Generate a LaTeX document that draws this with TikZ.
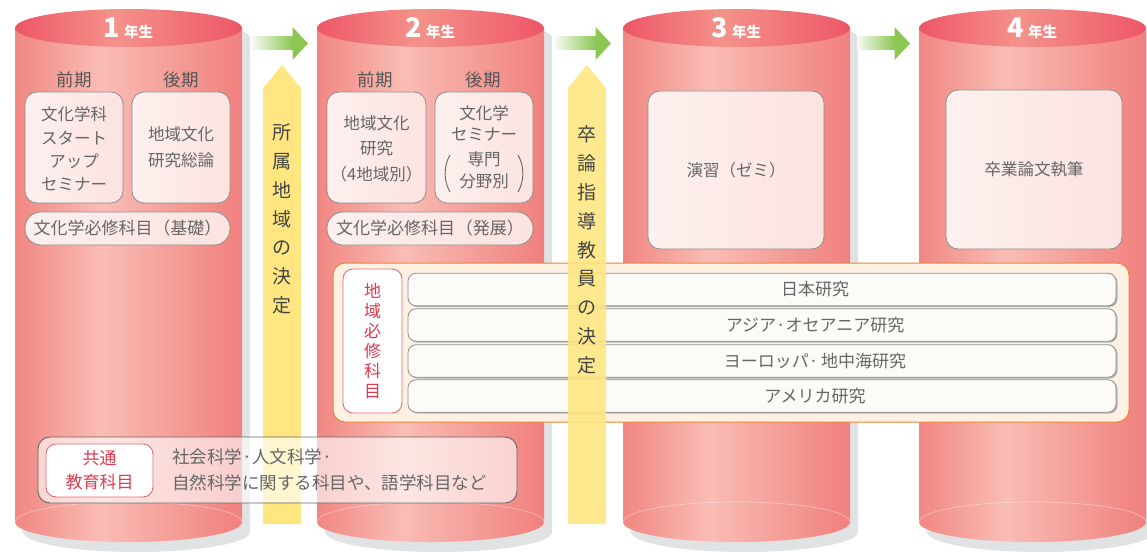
\documentclass[tikz,border=0pt]{standalone}
\usepackage{fontspec}
\setmainfont{Noto Sans CJK JP}
\definecolor{cylE}{HTML}{F18682}
\definecolor{cylER}{HTML}{F0807D}
\definecolor{cylM}{HTML}{F9BDB5}
\definecolor{topE}{HTML}{EE5668}
\definecolor{topM}{HTML}{F4928A}
\definecolor{shadowc}{HTML}{E1E2E4}
\definecolor{boxL}{HTML}{FDF0EE}
\definecolor{boxR}{HTML}{FBE3E0}
\definecolor{boxdraw}{HTML}{8E8E8E}
\definecolor{regfill}{HTML}{FEF1E3}
\definecolor{regdraw}{HTML}{EC8436}
\definecolor{redc}{HTML}{E03A4C}
\definecolor{reddraw}{HTML}{E36A78}
\definecolor{rowfill}{HTML}{FDFBF7}
\definecolor{rowdraw}{HTML}{8F8F8F}
\definecolor{yellowc}{HTML}{FFE680}
\definecolor{greenc}{HTML}{8CC653}
\definecolor{txtc}{HTML}{666666}
\definecolor{semc}{HTML}{555555}
\definecolor{ytxt}{HTML}{444444}
\pgfdeclarehorizontalshading{cylbody}{100bp}{color(0bp)=(cylE); color(25bp)=(cylE); color(44bp)=(cylM); color(75bp)=(cylER); color(100bp)=(cylER)}
\pgfdeclarehorizontalshading{cyltop}{100bp}{color(0bp)=(topE); color(25bp)=(topE); color(47bp)=(topM); color(75bp)=(topE); color(100bp)=(topE)}
\tikzset{
  hdr/.style={text=white, font=\bfseries, inner sep=0pt},
  sem/.style={font=\fontsize{17.5}{17.5}\selectfont, text=semc, inner sep=0pt},
  boxtxt/.style={font=\fontsize{16.5}{24}\selectfont, text=txtc, align=center, inner sep=0pt},
  pinkbox/.style={rounded corners=12pt, draw=boxdraw, line width=0.8pt, left color=boxL, right color=boxR, inner sep=0pt},
  pill/.style={rounded corners=16pt, draw=boxdraw, line width=0.8pt, left color=boxL, right color=boxR, inner sep=0pt, font=\fontsize{17}{17}\selectfont, text=txtc, minimum height=33pt},
  rowbox/.style={rounded corners=8pt, draw=rowdraw, line width=0.8pt, fill=rowfill, minimum width=708pt, minimum height=32.5pt, inner sep=0pt},
  rowtxt/.style={font=\fontsize{17}{17}\selectfont, text=txtc, inner sep=0pt},
  redbox/.style={rounded corners=10pt, draw=reddraw, line width=0.9pt, fill=white, inner sep=0pt, text=redc, align=center},
  vtxt/.style={font=\fontsize{19}{28.8}\selectfont, text=ytxt, align=center, inner sep=0pt},
  paren/.style={draw=txtc, line width=0.9pt}
}
\begin{document}
\begin{tikzpicture}[x=1pt,y=-1pt]
\useasboundingbox (0,0) rectangle (1147,553);
% cylinders
\foreach \lx/\lab in {15/1,317/2,623/3,919/4}{
  \fill[shadowc] (\lx+8,38) rectangle (\lx+235,532);
  \fill[shadowc] (\lx+121.5,532) ellipse[x radius=113.5, y radius=20];
  \fill[shadowc] (\lx+121.5,38) ellipse[x radius=113.5, y radius=19];
  \shade[shading=cylbody] (\lx,28) rectangle (\lx+227,522);
  \shade[shading=cylbody] (\lx+113.5,522) ellipse[x radius=113.5, y radius=20];
  \draw[white, opacity=0.35, line width=0.8pt] (\lx,522) arc[start angle=180, end angle=360, x radius=113.5, y radius=20];
  \shade[shading=cyltop] (\lx+113.5,28) ellipse[x radius=113.5, y radius=19];
  \node[hdr] (h\lab) at (\lx+113.5,28) {{\fontsize{27}{27}\selectfont \lab}\hspace{4pt}{\fontsize{14.5}{14.5}\selectfont 年生}};
}
% green arrows
\foreach \ax/\tip in {252/56,555/56,857/53}{
  \shade[left color=greenc!8, right color=greenc] (\ax,37) rectangle (\ax+\tip-15,49.5);
  \fill[greenc] (\ax+\tip-15.5,27) -- (\ax+\tip,43.5) -- (\ax+\tip-15.5,60) -- cycle;
}
% yellow arrow 1
\fill[yellowc] (263,524) -- (263,88) -- (282,65) -- (301,88) -- (301,524) -- cycle;
\node[vtxt] (y1) at (282,219) {所\\属\\地\\域\\の\\決\\定};
% year 1
\node[sem] (s11) at (74,80) {前期};
\node[sem] (s12) at (181,80) {後期};
\node[pinkbox, minimum width=98pt, minimum height=111pt] (b11) at (74,147.5) {};
\node[boxtxt, font=\fontsize{16.5}{23.3}\selectfont] (t11) at (74,149) {文化学科\\スタート\\アップ\\セミナー};
\node[pinkbox, minimum width=98pt, minimum height=111pt] (b12) at (181,147.5) {};
\node[boxtxt, font=\fontsize{16.5}{26}\selectfont] (t12) at (181,147) {地域文化\\研究総論};
\node[pill, minimum width=205pt] (p1) at (127.5,228.5) {文化学必修科目\hspace{1pt}（基礎）};
% year 2
\node[sem] (s21) at (375,80) {前期};
\node[sem] (s22) at (483,80) {後期};
\node[pinkbox, minimum width=99pt, minimum height=111pt] (b21) at (376.5,147.5) {};
\node[boxtxt, font=\fontsize{16.5}{25.5}\selectfont] (t21) at (376.5,148.5) {地域文化\\研究\\（4地域別）};
\node[pinkbox, minimum width=98pt, minimum height=111pt] (b22) at (484,147.5) {};
\node[boxtxt, font=\fontsize{16.5}{21}\selectfont] (t22a) at (484,123.5) {文化学\\セミナー};
\node[boxtxt, font=\fontsize{16.5}{22}\selectfont] (t22b) at (484,170) {専門\\分野別};
\draw[paren] (450,155) .. controls (443.5,166) and (443.5,181) .. (450,192);
\draw[paren] (518,155) .. controls (524.5,166) and (524.5,181) .. (518,192);
\node[pill, minimum width=206pt] (p2) at (430,228.5) {文化学必修科目\hspace{1pt}（発展）};
% year 3, 4
\node[pinkbox, minimum width=176pt, minimum height=158pt, font=\fontsize{16.5}{16.5}\selectfont, text=txtc] (b3) at (736,170) {演習（ゼミ）};
\node[pinkbox, minimum width=176pt, minimum height=159pt, font=\fontsize{16.5}{16.5}\selectfont, text=txtc] (b4) at (1034,169.5) {卒業論文執筆};
% region box
\node[rounded corners=12pt, draw=regdraw, line width=1pt, fill=regfill, minimum width=796pt, minimum height=159pt, inner sep=0pt] (reg) at (731,342.5) {};
\node[redbox, minimum width=59pt, minimum height=144pt, font=\fontsize{17}{20}\selectfont] (rr) at (372.5,341) {地\\域\\必\\修\\科\\目};
\foreach \ry/\nm/\txt in {289.5/r1/日本研究, 325/r2/アジア·オセアニア研究, 361/r3/ヨーロッパ·\,地中海研究, 396/r4/アメリカ研究}{
  \fill[rowdraw!70, rounded corners=8pt] (409.5,\ry-15) rectangle (1117.5,\ry+17.5);
  \node[rowbox] (\nm) at (762,\ry) {};
  \node[rowtxt] (\nm t) at (815,\ry) {\txt};
}
% yellow arrow 2
\fill[yellowc, opacity=0.88] (568,524) -- (568,88) -- (587,65) -- (606,88) -- (606,524) -- cycle;
\node[vtxt] (y2) at (587,250) {卒\\論\\指\\導\\教\\員\\の\\決\\定};
% common box
\node[rounded corners=12pt, draw=txtc, line width=0.9pt, fill=white, fill opacity=0.62, minimum width=479pt, minimum height=66pt, inner sep=0pt] (com) at (277.5,470) {};
\node[redbox, minimum width=107pt, minimum height=53pt, font=\fontsize{17}{24}\selectfont] (cr) at (99.5,470.5) {共通\\教育科目};
\node[font=\fontsize{17.5}{26}\selectfont, text=txtc, align=left, anchor=west, inner sep=0pt] (ct) at (172,470) {社会科学·人文科学·\\自然科学に関する科目や、語学科目など};
\end{tikzpicture}
\end{document}
